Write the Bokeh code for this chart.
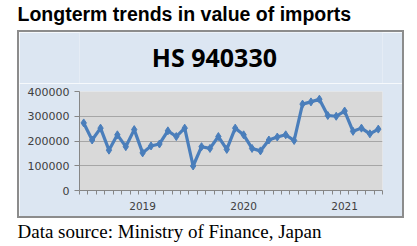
from bokeh.plotting import figure
from bokeh.models import Range1d, FixedTicker, Label, NumeralTickFormatter, Spacer
from bokeh.layouts import column, row
from bokeh.embed import file_html
from bokeh.resources import INLINE

# Monthly import values, Jun 2018 .. May 2021
months = list(range(36))
values = [273000, 204000, 252000, 163000, 225000, 177000, 246000, 152000, 180000, 188000,
          241000, 218000, 252000, 99000, 177000, 170000, 218000, 166000, 252000, 225000,
          170000, 160000, 204000, 216000, 225000, 202000, 349000, 358000, 369000, 303000,
          300000, 321000, 239000, 252000, 229000, 248000]
year_ticks = [7, 19, 31]
year_labels = ["2019", "2020", "2021"]
y_ticks = [0, 100000, 200000, 300000, 400000]

title_text = "Longterm trends in value of imports"
chart_title = "HS 940330"
source_text = "Data source: Ministry of Finance, Japan"

BOX = "#dce6f2"
EDGE = "#8c8c8c"


def text_strip(w, h, cw, ch, txt, x, y, bg, styles=None, **kw):
    # w, h: outer size; cw, ch: inner canvas size (after CSS border)
    f = figure(width=w, height=h, output_backend="svg", toolbar_location=None,
               x_range=Range1d(0, cw), y_range=Range1d(ch, 0),
               x_axis_type=None, y_axis_type=None, min_border=0,
               styles=styles or {})
    f.grid.visible = False
    f.outline_line_color = None
    f.background_fill_color = bg
    f.border_fill_color = bg
    f.add_layout(Label(x=x, y=y, text=txt, text_baseline="alphabetic", text_color="black", **kw))
    return f


top = text_strip(417, 30, 417, 30, title_text, 17, 13, "white", text_font="Liberation Sans",
                 text_font_style="bold", text_font_size="19.5px")
bottom = text_strip(417, 28, 417, 28, source_text, 17, 13, "white", text_font="Liberation Serif",
                    text_font_size="19px")
hs = text_strip(387, 53, 383, 51, chart_title, 170.5, 24, BOX,
                styles={"border": "2px solid " + EDGE, "border-bottom": "none"},
                text_font="Open Sans", text_font_style="bold", text_font_size="25px",
                text_align="center")

p = figure(width=387, height=135, output_backend="svg", toolbar_location=None,
           x_range=Range1d(-0.5, 35.5), y_range=Range1d(0, 400000),
           min_border_left=60, min_border_right=24, min_border_top=8, min_border_bottom=28,
           styles={"border": "2px solid " + EDGE, "border-top": "none"})
p.background_fill_color = "#d9d9d9"
p.border_fill_color = BOX
p.outline_line_color = None

p.line(months, values, line_color="#4a7ebb", line_width=3.2)
p.scatter(months, values, marker="diamond", size=8, color="#4a7ebb")

p.xgrid.visible = False
p.ygrid.grid_line_color = "#a6a6a6"
p.ygrid.ticker = FixedTicker(ticks=y_ticks)

xa = p.xaxis[0]
xa.ticker = FixedTicker(ticks=year_ticks, minor_ticks=[m - 0.5 for m in range(37)])
xa.major_label_overrides = {t: l for t, l in zip(year_ticks, year_labels)}
xa.axis_line_color = "#868686"
xa.major_tick_line_color = None
xa.major_tick_out = 4
xa.major_tick_in = 0
xa.minor_tick_line_color = "#868686"
xa.minor_tick_out = 4
xa.minor_tick_in = 0
xa.major_label_standoff = 7
xa.major_label_text_font = "DejaVu Sans"
xa.major_label_text_font_size = "10.5px"
xa.major_label_text_color = "#404040"

ya = p.yaxis[0]
ya.ticker = FixedTicker(ticks=y_ticks)
ya.formatter = NumeralTickFormatter(format="0")
ya.axis_line_color = "#868686"
ya.major_tick_line_color = "#868686"
ya.major_tick_out = 5
ya.major_tick_in = 0
ya.minor_tick_line_color = None
ya.major_label_standoff = 5
ya.major_label_text_font = "DejaVu Sans"
ya.major_label_text_font_size = "11px"
ya.major_label_text_color = "#404040"

layout = column(top, row(Spacer(width=17, height=188), column(hs, p)), bottom)

open("out.html", "w").write(file_html(layout, INLINE))
